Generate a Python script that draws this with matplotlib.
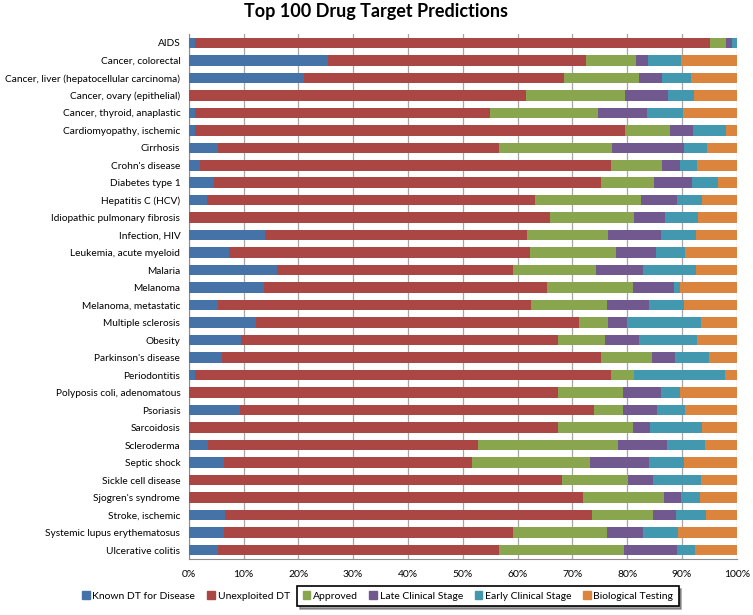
import numpy as np
import matplotlib
matplotlib.use('Agg')
import matplotlib.pyplot as plt
from matplotlib.patches import Patch

plt.rcParams['font.family'] = ['Lato', 'DejaVu Sans']

# --- DATA (percent of targets per stage) ---
diseases = [
    'AIDS', 'Cancer, colorectal', 'Cancer, liver (hepatocellular carcinoma)',
    'Cancer, ovary (epithelial)', 'Cancer, thyroid, anaplastic', 'Cardiomyopathy, ischemic',
    'Cirrhosis', "Crohn's disease", 'Diabetes type 1', 'Hepatitis C (HCV)',
    'Idiopathic pulmonary fibrosis', 'Infection, HIV', 'Leukemia, acute myeloid',
    'Malaria', 'Melanoma', 'Melanoma, metastatic', 'Multiple sclerosis', 'Obesity',
    "Parkinson's disease", 'Periodontitis', 'Polyposis coli, adenomatous', 'Psoriasis',
    'Sarcoidosis', 'Scleroderma', 'Septic shock', 'Sickle cell disease',
    "Sjogren's syndrome", 'Stroke, ischemic', 'Systemic lupus erythematosus',
    'Ulcerative colitis',
]

known_dt = [1.2, 25.5, 21.0, 0, 1.1, 1.1, 5.4, 2.1, 4.6, 3.4, 0, 13.9, 7.4, 16.2, 13.7,
            5.4, 12.2, 9.5, 6.1, 1.1, 0, 9.4, 0, 3.5, 6.4, 0, 0, 6.6, 6.4, 5.3]
unexploited = [93.9, 47.0, 47.5, 61.5, 53.9, 78.5, 51.2, 75.0, 70.7, 59.7, 65.9, 47.9, 54.9,
               43.0, 51.7, 57.0, 59.0, 57.9, 69.2, 76.0, 67.4, 64.6, 67.4, 49.3, 45.3, 68.1,
               71.9, 67.0, 52.8, 51.3]
approved = [2.9, 9.2, 13.7, 18.1, 19.7, 8.2, 20.6, 9.3, 9.6, 19.5, 15.4, 14.8, 15.7, 15.1,
            15.7, 13.9, 5.4, 8.5, 9.2, 4.1, 11.8, 5.2, 13.7, 25.5, 21.5, 12.1, 14.8, 11.1,
            17.1, 22.9]
late_stage = [1.1, 2.1, 4.1, 7.9, 8.9, 4.2, 13.1, 3.2, 6.9, 6.5, 5.7, 9.6, 7.3, 8.6, 7.4,
              7.6, 3.4, 6.3, 4.2, 0, 7.0, 6.3, 3.1, 9.0, 10.7, 4.5, 3.1, 4.3, 6.6, 9.6]
early_stage = [0.9, 6.1, 5.4, 4.7, 6.6, 6.0, 4.3, 3.1, 4.8, 4.5, 6.0, 6.4, 5.3, 9.7, 1.1,
               6.4, 13.5, 10.6, 6.2, 16.7, 3.4, 5.1, 9.5, 7.0, 6.4, 8.8, 3.5, 5.4, 6.4, 3.3]
bio_testing = [0, 10.1, 8.3, 7.8, 9.8, 2.0, 5.4, 7.3, 3.4, 6.4, 7.0, 7.4, 9.4, 7.4, 10.4,
               9.7, 6.5, 7.2, 5.1, 2.1, 10.4, 9.4, 6.3, 5.7, 9.7, 6.5, 6.7, 5.6, 10.7, 7.6]

series = [
    ('Known DT for Disease', known_dt, '#4572A7'),
    ('Unexploited DT', unexploited, '#AA4643'),
    ('Approved', approved, '#89A54E'),
    ('Late Clinical Stage', late_stage, '#71588F'),
    ('Early Clinical Stage', early_stage, '#4198AF'),
    ('Biological Testing', bio_testing, '#DB843D'),
]

fig = plt.figure(figsize=(7.53, 6.15), dpi=100)
ax = fig.add_axes([0.2506, 0.0911, 0.7278, 0.8536])

y = np.arange(len(diseases))
left = np.zeros(len(diseases))
for name, vals, col in series:
    vals = np.array(vals)
    ax.barh(y, vals, left=left, height=0.6, color=col, label=name, zorder=3)
    left += vals

ax.set_ylim(len(diseases) - 0.5, -0.5)
ax.set_xlim(0, 100)
ax.set_yticks(y)
ax.set_yticklabels(diseases, fontsize=7.3)
ax.set_xticks(np.arange(0, 101, 10))
ax.set_xticklabels([f'{v}%' for v in range(0, 101, 10)], fontsize=7.5)
ax.tick_params(axis='y', length=0, pad=6)
ax.tick_params(axis='x', length=0, pad=8)
ax.grid(axis='x', color='#A6A6A6', lw=0.9, zorder=0)
for s in ['top', 'right']:
    ax.spines[s].set_visible(False)
for s in ['left', 'bottom']:
    ax.spines[s].set_color('#8C8C8C')

fig.suptitle('Top 100 Drug Target Predictions', fontsize=13, fontweight='bold', y=0.995)

# --- Legend: first two entries free, last four in a boxed frame ---
h = [Patch(color=c) for _, _, c in series]
labels = [n for n, _, _ in series]
common = dict(loc='center', fontsize=7.5, handlelength=0.75, handleheight=0.75,
              handletextpad=0.25)
for i, xc in [(0, 0.184), (1, 0.330)]:
    fig.legend([h[i]], [labels[i]], bbox_to_anchor=(xc, 0.031), frameon=False, **common)
leg2 = fig.legend(h[2:], labels[2:], ncol=4, bbox_to_anchor=(0.648, 0.031),
                  columnspacing=1.1, fancybox=False, shadow=True, edgecolor='black',
                  framealpha=1, borderpad=0.5, **common)
leg2.get_frame().set_linewidth(1.2)

fig.savefig('out.png', dpi=100)
